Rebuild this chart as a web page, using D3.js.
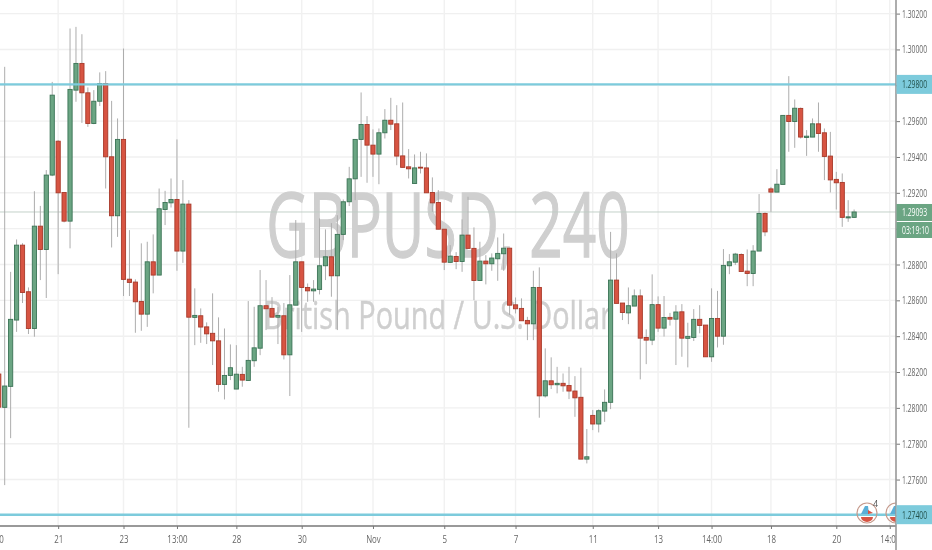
<!DOCTYPE html>
<html>
<head>
<meta charset="utf-8">
<script src="https://cdn.jsdelivr.net/npm/d3@7"></script>
<style>
  html, body { margin: 0; padding: 0; background: #fff; overflow: hidden; }
  svg { display: block; filter: blur(0.35px); }
  text { font-family: "Open Sans", sans-serif; }
</style>
</head>
<body>
<svg id="chart" width="932" height="550"></svg>
<script>
const opens = [
  1.28189,1.28003,1.28120,1.28490,1.28908,1.28648,1.28443,1.29014,1.28884,1.29299,
  1.29488,1.29202,1.29042,1.29773,1.29922,1.29758,1.29587,1.29711,1.29810,1.29401,
  1.29072,1.29498,1.28718,1.28702,1.28594,1.28523,1.28815,1.28741,1.29107,1.29144,
  1.29163,1.28875,1.29137,1.28505,1.28514,1.28452,1.28416,1.28374,1.28131,1.28181,
  1.28105,1.28187,1.28153,1.28263,1.28333,1.28570,1.28555,1.28506,1.28514,1.28296,
  1.28573,1.28815,1.28672,1.28653,1.28661,1.28793,1.28843,1.28737,1.28968,1.29150,
  1.29278,1.29498,1.29581,1.29466,1.29416,1.29535,1.29605,1.29585,1.29406,1.29345,
  1.29252,1.29343,1.29339,1.29202,1.29146,1.28997,1.28812,1.28845,1.28817,1.28964,
  1.28890,1.28711,1.28819,1.28804,1.28832,1.28860,1.28891,1.28575,1.28555,1.28488,
  1.28469,1.28672,1.28067,1.28151,1.28129,1.28137,1.28125,1.28094,1.28059,1.27714,
  1.27958,1.27910,1.27982,1.28031,1.28713,1.28585,1.28530,1.28568,1.28625,1.28393,
  1.28378,1.28576,1.28445,1.28505,1.28495,1.28536,1.28388,1.28393,1.28494,1.28462,
  1.28285,1.28499,1.28400,1.28793,1.28813,1.28856,1.28763,1.28750,1.28875,1.29085,
  1.29222,1.29204,1.29247,1.29632,1.29598,1.29671,1.29509,1.29511,1.29585,1.29535,
  1.29405,1.29275,1.29258,1.29060,1.29063
];
const highs = [
  1.28267,1.29903,1.28759,1.28940,1.28919,1.28672,1.29209,1.29127,1.29327,1.29819,
  1.29494,1.29204,1.30117,1.30126,1.30085,1.29788,1.29773,1.29872,1.29879,1.29713,
  1.29615,1.30005,1.28992,1.28717,1.28918,1.28927,1.28968,1.29224,1.29211,1.29280,
  1.29498,1.29271,1.29159,1.28667,1.28555,1.28477,1.28639,1.28505,1.28443,1.28354,
  1.28350,1.28229,1.28596,1.28564,1.28769,1.28713,1.28618,1.28562,1.28585,1.28741,
  1.29048,1.28815,1.28694,1.28713,1.29057,1.28996,1.29031,1.29075,1.29163,1.29345,
  1.29498,1.29760,1.29628,1.29554,1.29559,1.29667,1.29730,1.29689,1.29704,1.29444,
  1.29414,1.29429,1.29420,1.29286,1.29215,1.28997,1.28908,1.28869,1.29052,1.29178,
  1.29007,1.28927,1.28852,1.28862,1.28951,1.28973,1.28891,1.28616,1.28611,1.28508,
  1.28765,1.28784,1.28332,1.28282,1.28229,1.28192,1.28229,1.28177,1.28224,1.27882,
  1.27988,1.27992,1.28103,1.28982,1.28862,1.28585,1.28672,1.28661,1.28661,1.28438,
  1.28745,1.28622,1.28624,1.28530,1.28573,1.28579,1.28475,1.28551,1.28573,1.28462,
  1.28667,1.28653,1.28886,1.28858,1.28865,1.28862,1.28884,1.28908,1.29193,1.29091,
  1.29233,1.29332,1.29632,1.29851,1.29721,1.29676,1.29550,1.29615,1.29704,1.29559,
  1.29540,1.29317,1.29308,1.29159,1.29107
];
const lows = [
  1.27960,1.27569,1.27831,1.28424,1.28585,1.28412,1.28397,1.28713,1.28613,1.29293,
  1.28746,1.29035,1.28890,1.29708,1.29590,1.29568,1.29583,1.29684,1.29224,1.28895,
  1.28954,1.28624,1.28624,1.28419,1.28430,1.28452,1.28639,1.28741,1.29020,1.29118,
  1.28765,1.28809,1.27889,1.28350,1.28363,1.28356,1.28239,1.28090,1.28047,1.28155,
  1.28105,1.28118,1.28153,1.28229,1.28294,1.28434,1.28506,1.28356,1.28270,1.28066,
  1.28573,1.28424,1.28592,1.28592,1.28633,1.28713,1.28620,1.28434,1.28936,1.29126,
  1.29159,1.29289,1.29256,1.29289,1.29248,1.29503,1.29550,1.29354,1.29342,1.29280,
  1.29252,1.29308,1.29200,1.29094,1.28997,1.28769,1.28808,1.28774,1.28759,1.28890,
  1.28601,1.28711,1.28689,1.28765,1.28709,1.28765,1.28518,1.28527,1.28486,1.28378,
  1.28378,1.27945,1.28058,1.28105,1.28081,1.28090,1.28049,1.27950,1.27714,1.27690,
  1.27876,1.27863,1.27922,1.27993,1.28583,1.28490,1.28467,1.28568,1.28159,1.28244,
  1.28350,1.28424,1.28398,1.28459,1.28239,1.28285,1.28226,1.28373,1.28416,1.28285,
  1.28257,1.28337,1.28352,1.28746,1.28797,1.28761,1.28679,1.28679,1.28875,1.28958,
  1.29094,1.29204,1.29247,1.29429,1.29451,1.29503,1.29406,1.29511,1.29429,1.29271,
  1.29202,1.29107,1.29010,1.29038,1.29060
];
const closes = [
  1.28004,1.28122,1.28494,1.28908,1.28644,1.28443,1.29014,1.28884,1.29299,1.29745,
  1.29200,1.29042,1.29777,1.29922,1.29758,1.29587,1.29711,1.29810,1.29401,1.29072,
  1.29498,1.28717,1.28700,1.28592,1.28523,1.28815,1.28741,1.29111,1.29146,1.29163,
  1.28875,1.29137,1.28506,1.28516,1.28451,1.28413,1.28374,1.28131,1.28181,1.28224,
  1.28188,1.28155,1.28265,1.28335,1.28570,1.28553,1.28506,1.28516,1.28296,1.28575,
  1.28815,1.28672,1.28653,1.28663,1.28793,1.28843,1.28737,1.28968,1.29150,1.29278,
  1.29498,1.29581,1.29466,1.29416,1.29535,1.29605,1.29583,1.29405,1.29342,1.29334,
  1.29339,1.29338,1.29200,1.29144,1.28997,1.28813,1.28847,1.28817,1.28964,1.28890,
  1.28711,1.28819,1.28804,1.28836,1.28862,1.28891,1.28573,1.28553,1.28486,1.28469,
  1.28672,1.28067,1.28151,1.28129,1.28137,1.28123,1.28094,1.28056,1.27714,1.27727,
  1.27910,1.27984,1.28031,1.28713,1.28583,1.28532,1.28570,1.28625,1.28389,1.28378,
  1.28576,1.28445,1.28504,1.28495,1.28535,1.28389,1.28399,1.28494,1.28460,1.28285,
  1.28499,1.28400,1.28795,1.28815,1.28858,1.28761,1.28750,1.28875,1.29085,1.28982,
  1.29204,1.29248,1.29632,1.29598,1.29672,1.29511,1.29516,1.29585,1.29531,1.29403,
  1.29272,1.29256,1.29063,1.29066,1.29093
];

// first bar in the arrays is bar number -1, it sits half cut off at the left edge
const timeTicks = [-1, 9, 20, 29, 39, 50, 62, 74, 86, 99, 110, 119, 129, 140, 149];
const timeLabels = ["00", "21", "23", "13:00", "28", "30", "Nov", "5", "7", "11", "13", "14:00", "18", "20", "14:00"];
const priceTicks = [1.302, 1.300, 1.298, 1.296, 1.294, 1.292, 1.290, 1.288, 1.286, 1.284, 1.282, 1.280, 1.278, 1.276, 1.274];
// these sit behind the price tags in the reference, only the grid line shows
const hiddenLabels = [1.298, 1.290, 1.274];
const levels = [1.29805, 1.27404];
const levelLabels = ["1.29800", "1.27400"];
const lastPrice = 1.29093;
const countdown = "03:19:10";

const width = 932, height = 550;
const paneRight = 896, paneBottom = 526;

const x = d3.scaleLinear().domain([-1, 143]).range([-1.24, 854.12]);
const y = d3.scaleLinear().domain([1.274, 1.302]).range([515.4, 13.6]);

const svg = d3.select('#chart');

// squeeze text sideways, the reference font is a lot narrower than the installed ones
function narrow(sel, k) {
  sel.each(function () {
    let t = d3.select(this);
    let x0 = +t.attr('x') || 0;
    t.attr('x', 0).attr('transform', `translate(${x0},0) scale(${k},1)`);
  });
}

// grid
svg.append('g').selectAll('line').data(priceTicks).join('line')
  .attr('x1', 0).attr('x2', paneRight)
  .attr('y1', d => y(d)).attr('y2', d => y(d))
  .attr('stroke', '#f0f0f0').attr('stroke-width', 1.4);
svg.append('g').selectAll('line').data(timeTicks).join('line')
  .attr('x1', d => x(d)).attr('x2', d => x(d))
  .attr('y1', 0).attr('y2', paneBottom)
  .attr('stroke', '#f1f1f1').attr('stroke-width', 1.4);

// watermark
svg.append('text').text('GBPUSD, 240')
  .attr('x', 448).attr('y', 257)
  .attr('text-anchor', 'middle')
  .attr('font-size', 90)
  .attr('fill', '#cfcfcf').attr('stroke', '#cfcfcf').attr('stroke-width', 1.4)
  .call(narrow, 0.65);
svg.append('text').text('British Pound / U.S. Dollar')
  .attr('x', 438).attr('y', 329)
  .attr('text-anchor', 'middle')
  .attr('font-size', 38)
  .attr('fill', '#cfcfcf').attr('stroke', '#cfcfcf').attr('stroke-width', 0.5)
  .call(narrow, 0.76);

// current price line goes under the bars
svg.append('line')
  .attr('x1', 0).attr('x2', paneRight)
  .attr('y1', y(lastPrice)).attr('y2', y(lastPrice))
  .attr('stroke', '#bccdc3').attr('stroke-width', 0.9);

const bars = closes.map((c, i) => ({ i: i - 1, o: opens[i], h: highs[i], l: lows[i], c: c }));
const upFill = '#6ba583', upEdge = '#3a7355', downFill = '#d75442', downEdge = '#a83a2a';

svg.append('g').selectAll('line').data(bars).join('line')
  .attr('x1', d => x(d.i)).attr('x2', d => x(d.i))
  .attr('y1', d => y(d.h)).attr('y2', d => y(d.l))
  .attr('stroke', '#adadad').attr('stroke-width', 1);

svg.append('g').selectAll('rect').data(bars).join('rect')
  .attr('x', d => x(d.i) - 2.1)
  .attr('width', 4.2)
  .attr('y', d => y(Math.max(d.o, d.c)))
  .attr('height', d => Math.max(0.8, Math.abs(y(d.o) - y(d.c))))
  .attr('fill', d => d.c >= d.o ? upFill : downFill)
  .attr('stroke', d => d.c >= d.o ? upEdge : downEdge)
  .attr('stroke-width', 0.9);

// horizontal levels
svg.append('g').selectAll('line').data(levels).join('line')
  .attr('x1', 0).attr('x2', paneRight)
  .attr('y1', d => y(d)).attr('y2', d => y(d))
  .attr('stroke', '#7dcbdc').attr('stroke-width', 2.4);

// little event icons sitting on the bottom line
function icon(cx, cy, badge) {
  let g = svg.append('g').attr('transform', `translate(${cx},${cy})`);
  g.append('circle').attr('r', 10).attr('fill', 'none').attr('stroke', '#c59a8c').attr('stroke-width', 1.2);
  g.append('path').attr('d', 'M-6,1 L-2,-7 L1,-7 L2,1 Z').attr('fill', '#5aaed6');
  g.append('path').attr('d', 'M1,-3 L6,0 L1,1 Z').attr('fill', '#d75442');
  g.append('path').attr('d', 'M-6,4 A6,5 0 0 0 6,4 Z').attr('fill', '#d75442');
  if (badge) {
    g.append('text').text(badge).attr('x', 6).attr('y', -6)
      .attr('font-size', 9).attr('fill', '#555');
  }
}
icon(867, 513, '4');
icon(896, 513);

// bottom axis
let xAxis = d3.axisBottom(x)
  .tickValues(timeTicks)
  .tickFormat((d, i) => timeLabels[i])
  .tickSize(3)
  .tickPadding(6);
let xG = svg.append('g').attr('transform', `translate(0,${paneBottom})`).call(xAxis);
xG.select('.domain').remove();
xG.append('line').attr('x1', 0).attr('x2', paneRight).attr('stroke', '#777').attr('stroke-width', 1.4);
xG.selectAll('.tick line').attr('stroke', '#777');
xG.selectAll('text').attr('fill', '#666').attr('font-size', 11)
  .attr('font-family', '"Open Sans", sans-serif').call(narrow, 0.72);

// right side panel covers whatever runs past the pane
svg.append('rect').attr('x', paneRight).attr('y', 0)
  .attr('width', width - paneRight).attr('height', height).attr('fill', '#fff');

let yAxis = d3.axisRight(y)
  .tickValues(priceTicks)
  .tickFormat(d => hiddenLabels.includes(d) ? '' : d3.format('.5f')(d))
  .tickSize(4)
  .tickPadding(2);
let yG = svg.append('g').attr('transform', `translate(${paneRight},0)`).call(yAxis);
yG.select('.domain').remove();
yG.selectAll('.tick line').attr('stroke', '#777');
yG.selectAll('text').attr('fill', '#666').attr('font-size', 11)
  .attr('font-family', '"Open Sans", sans-serif').call(narrow, 0.62);
svg.append('line').attr('x1', paneRight).attr('x2', paneRight)
  .attr('y1', 0).attr('y2', height)
  .attr('stroke', '#999').attr('stroke-width', 1.6);

// price tags
function tag(top, h, fill, color, label) {
  svg.append('rect').attr('x', paneRight + 0.5).attr('y', top)
    .attr('width', width - paneRight).attr('height', h).attr('fill', fill);
  svg.append('text').text(label)
    .attr('x', paneRight + 6).attr('y', top + h / 2 + 4)
    .attr('fill', color).attr('font-size', 11)
    .call(narrow, 0.62);
}
levels.forEach((d, i) => tag(y(d) - 9.5, 19, '#7dcbdc', '#23524c', levelLabels[i]));
tag(y(lastPrice) - 8, 17, '#6ba583', '#fff', d3.format('.5f')(lastPrice));
tag(y(lastPrice) + 10, 16, '#6ba583', '#fff', countdown);
</script>
</body>
</html>
